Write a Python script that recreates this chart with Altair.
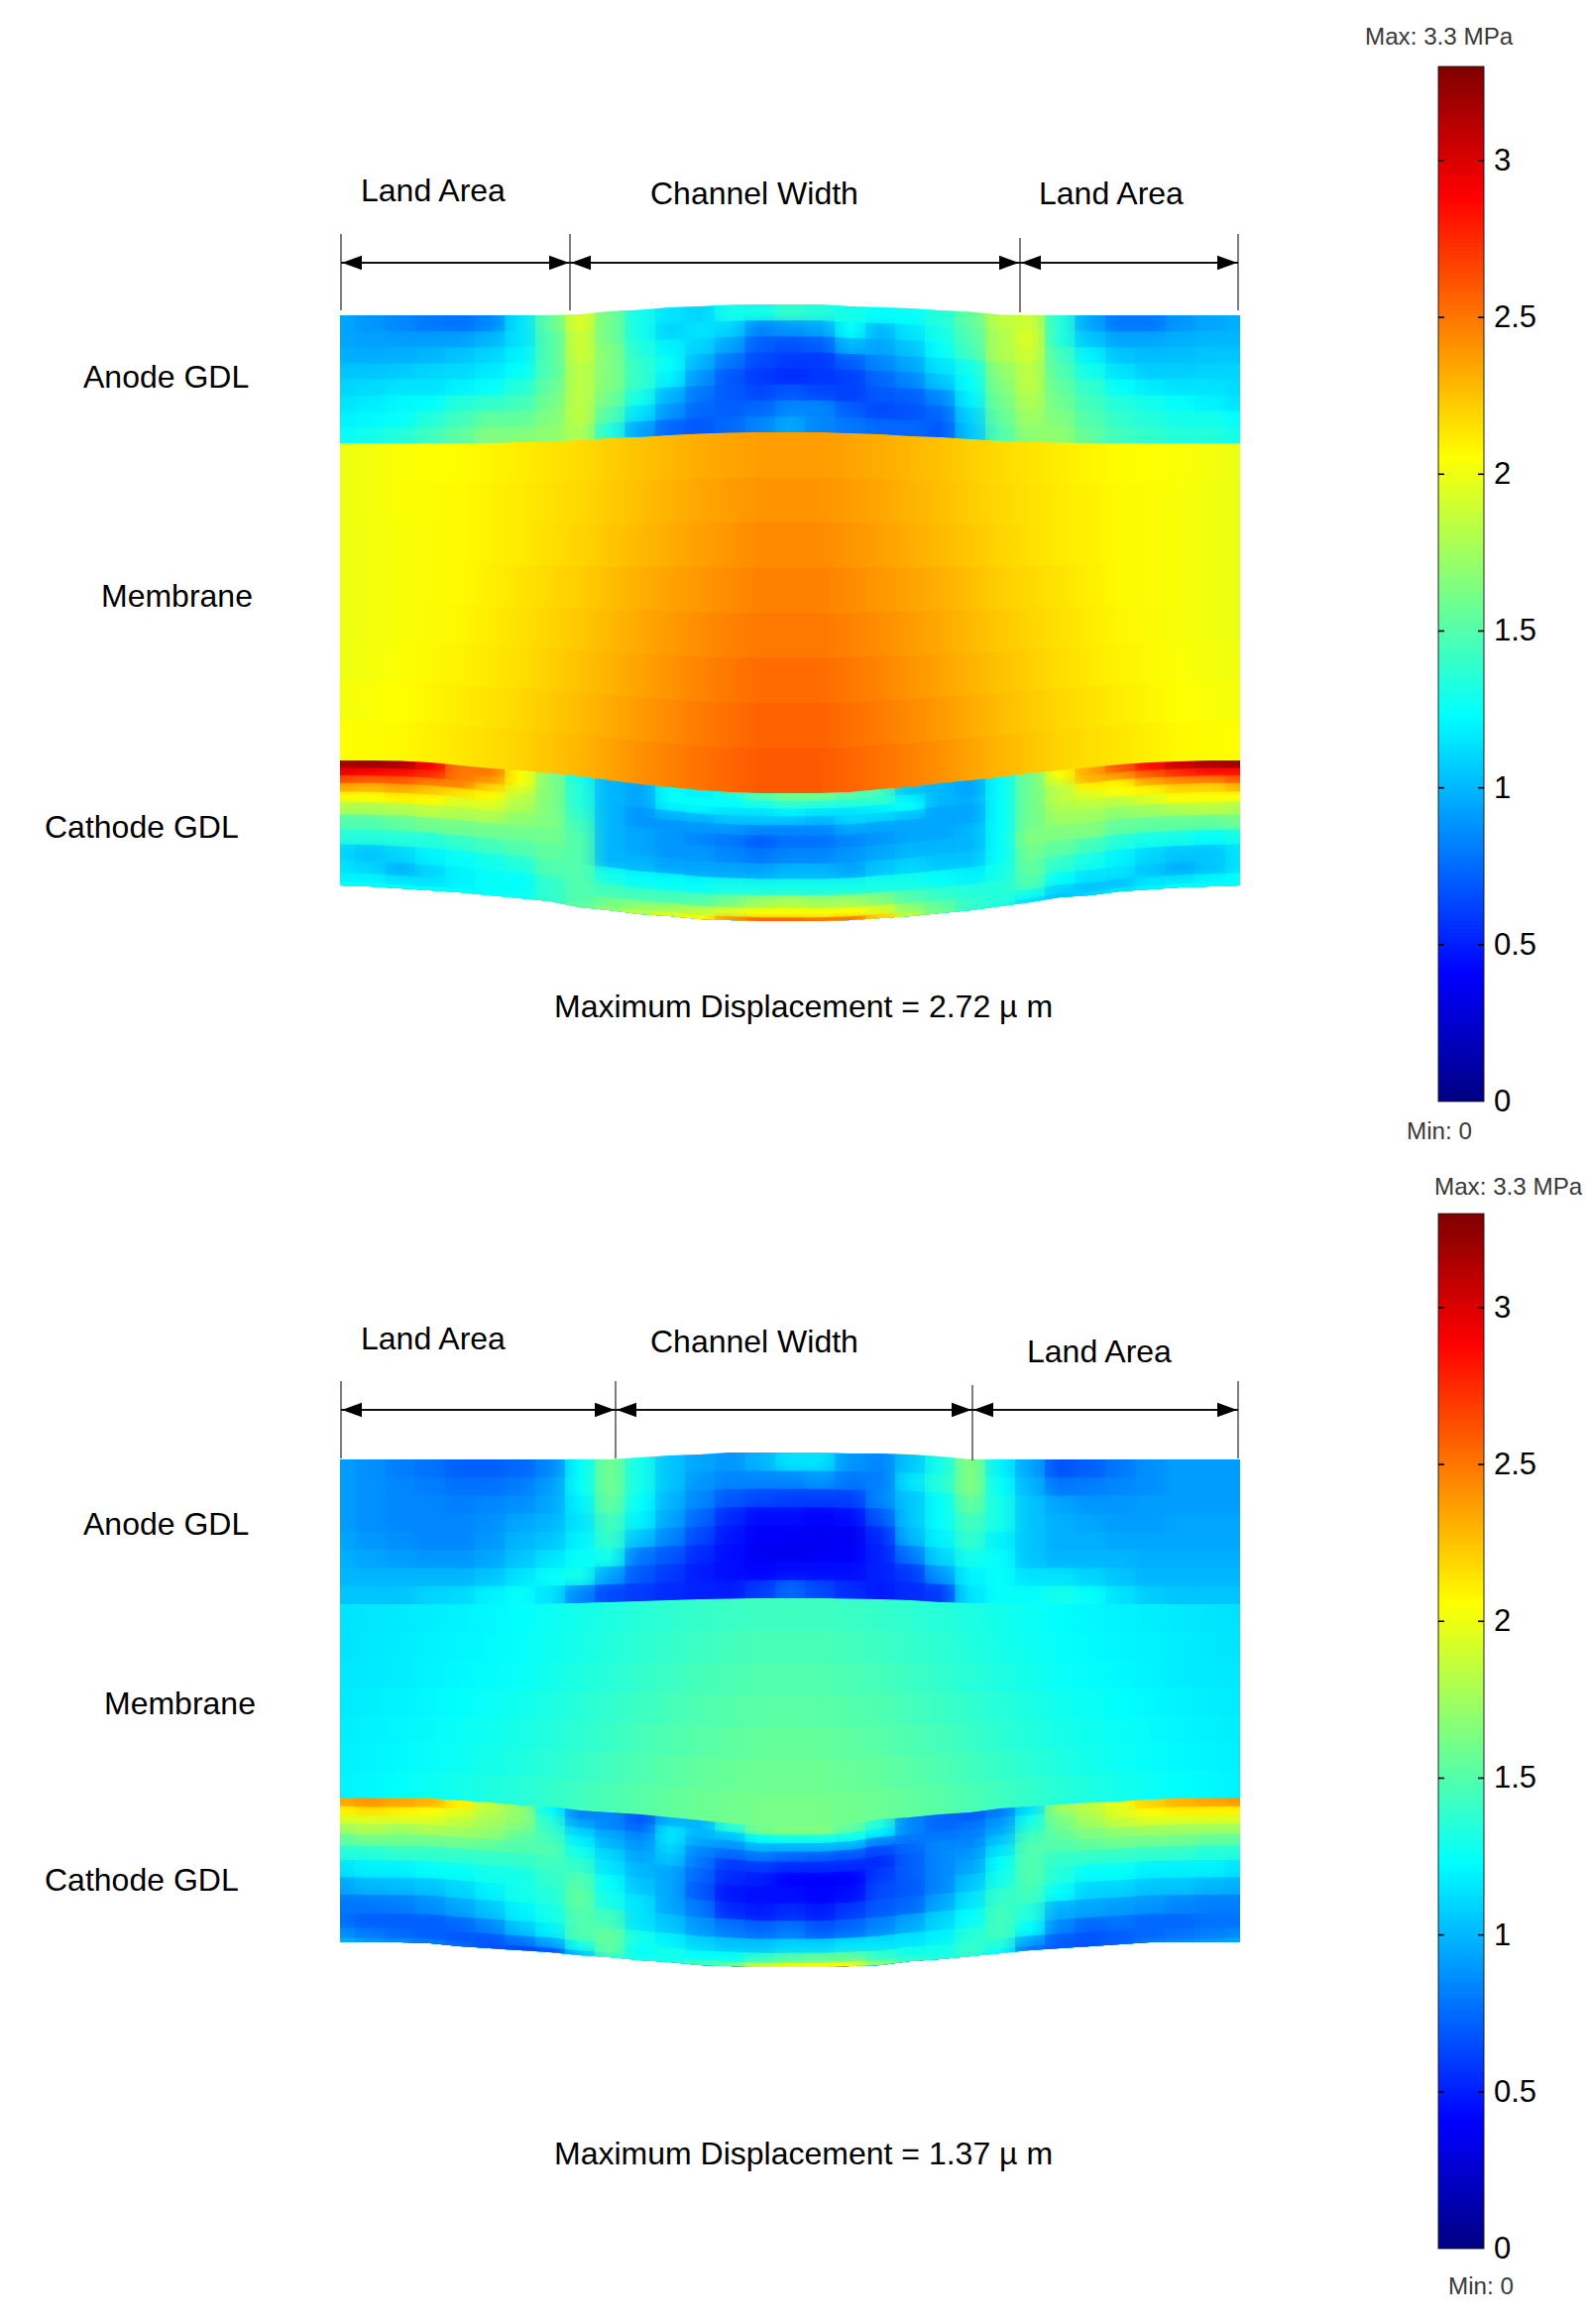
import altair as alt
import pandas as pd

# ---------- stations along the cell width (reference pixels) ----------
STATIONS = [343,373,404,434,464,494,525,555,585,615,646,676,706,736,767,797,
            827,858,888,918,948,979,1009,1039,1069,1100,1130,1160,1190,1221,1251]

# ---------- deformed layer boundaries, panel 1 ----------
P1_ANODE_TOP = [318,318,318,318,318,318,318,318,317,314,312.5,310,309,307.5,307,307,
                307,309,310,311,313,314.5,317.5,318,318,318,318,318,318,318,318]
P1_ANODE_BOT = [447,447,447,447,447,447,446,445.5,444,442,441,439,437.5,436.5,436,436,
                436,437,438,440,441,443,445,446,446.5,447,447,447,447,447,447]
P1_MEM_BOT = [767,767,767.5,769,772,775,777,780,783,787,791,794,797,799,800,800,
              800,799,796,794,790,787,784,780,777,774,771,769,768,767,767]
P1_CATH_BOT = [893,894,896,898,900,903,906,909,915,918,922,924,927,928,929,929,
               929,928,926,924,921,918,914,910,905,903,899,897,895,894,893]

# ---------- deformed layer boundaries, panel 2 ----------
P2_ANODE_TOP = [1472,1472,1472,1472,1472,1472,1472,1472,1472,1472,1470,1468,1467,1465,1465,1465,
                1465,1466,1466,1467,1469,1472,1472,1472,1472,1472,1472,1472,1472,1472,1472]
P2_ANODE_BOT = [1618,1618,1618,1618,1618,1618,1618,1617.5,1617,1616,1615,1614,1613,1612.5,1612,1612,
                1612,1612.5,1613,1614,1616,1617,1617.5,1618,1618,1618,1618,1618,1618,1618,1618]
P2_MEM_BOT = [1813,1814,1814,1814,1816,1818,1821,1822,1826,1828,1830,1833,1836,1839,1842,1842,
              1842,1840,1835,1833,1830,1828,1824,1822,1820,1818,1817,1815,1814,1813.5,1813]
P2_CATH_BOT = [1959,1959,1959,1960,1963,1965,1967,1969,1972,1974,1977,1979,1982,1983,1984,1984,
               1984,1983,1982,1978,1976,1973,1970,1967,1965,1963,1961,1959,1959,1959,1959]

# ---------- von Mises stress (MPa); rows top to bottom ----------
A1 = [
 [.95,.9,.85,.8,.78,.85,1.15,1.55,1.95,1.6,1.3,1.15,1.1,1.3,1.3,1.4,1.35,1.3,1.25,1.25,1.35,1.55,1.85,1.9,1.35,.95,.8,.8,.9,.95,.98],
 [.95,.93,.92,.92,.93,1.0,1.15,1.5,1.9,1.6,1.3,1.1,1.15,1.1,.85,.9,.95,1.25,1.0,1.15,1.3,1.5,1.8,1.95,1.35,1.05,.95,.95,.98,1.0,1.0],
 [.98,.97,.98,1.0,1.05,1.1,1.2,1.5,1.9,1.65,1.35,1.2,1.1,.95,.72,.68,.72,1.0,.95,1.05,1.25,1.45,1.8,1.9,1.45,1.2,1.05,1.02,1.03,1.05,1.05],
 [1.05,1.05,1.07,1.1,1.12,1.17,1.25,1.5,1.85,1.65,1.4,1.25,1.0,.8,.65,.6,.6,.72,.85,.95,1.15,1.3,1.7,1.85,1.5,1.3,1.15,1.08,1.08,1.1,1.1],
 [1.1,1.12,1.15,1.15,1.2,1.25,1.35,1.55,1.85,1.65,1.4,1.2,.9,.7,.6,.55,.58,.62,.75,.85,1.05,1.25,1.65,1.85,1.55,1.4,1.25,1.18,1.15,1.15,1.12],
 [1.15,1.18,1.22,1.24,1.35,1.4,1.45,1.6,1.85,1.6,1.3,1.0,.8,.7,.65,.7,.65,.62,.7,.72,.85,1.2,1.6,1.8,1.6,1.45,1.35,1.3,1.25,1.2,1.15],
 [1.2,1.22,1.25,1.35,1.45,1.55,1.55,1.65,1.85,1.5,1.15,.9,.75,.72,.75,.85,.85,.72,.65,.68,.75,1.1,1.55,1.75,1.65,1.5,1.4,1.35,1.3,1.3,1.25],
 [1.25,1.3,1.35,1.45,1.55,1.65,1.65,1.7,1.8,1.35,.95,.75,.7,.75,.85,.95,.85,.8,.75,.75,.7,1.05,1.5,1.7,1.7,1.55,1.45,1.4,1.35,1.35,1.3],
]
M1 = [
 [2.0,2.05,2.07,2.12,2.18,2.26,2.33,2.38,2.38,2.33,2.26,2.18,2.12,2.07,2.05,2.0],
 [2.0,2.05,2.08,2.13,2.19,2.27,2.35,2.41,2.41,2.35,2.27,2.19,2.13,2.08,2.04,2.0],
 [2.0,2.04,2.08,2.13,2.2,2.29,2.37,2.44,2.44,2.37,2.29,2.2,2.13,2.08,2.04,2.0],
 [2.0,2.04,2.08,2.15,2.22,2.32,2.4,2.47,2.47,2.4,2.32,2.22,2.15,2.08,2.04,2.0],
 [2.0,2.04,2.09,2.16,2.24,2.34,2.43,2.5,2.5,2.43,2.34,2.24,2.16,2.09,2.04,2.0],
 [2.01,2.05,2.1,2.17,2.26,2.36,2.46,2.54,2.54,2.46,2.36,2.26,2.17,2.1,2.05,2.01],
 [2.03,2.06,2.12,2.19,2.28,2.39,2.49,2.57,2.57,2.49,2.39,2.28,2.19,2.12,2.06,2.03],
 [2.06,2.08,2.14,2.2,2.3,2.42,2.52,2.6,2.6,2.52,2.42,2.3,2.2,2.14,2.08,2.06],
]
# these grids are listed by station, each with one value per row
C1_COLS = [
 [3.15,2.95,2.65,2.35,2.08,1.8,1.5,1.35,1.1,1.15,1.2,1.25],
 [3.2,2.9,2.6,2.3,2.05,1.8,1.5,1.35,1.05,1.1,1.2,1.25],
 [3.15,2.85,2.6,2.35,2.1,1.8,1.55,1.35,1.1,1.0,1.15,1.25],
 [2.9,2.75,2.5,2.25,2.08,1.85,1.6,1.35,1.2,1.1,1.15,1.25],
 [2.5,2.5,2.45,2.15,1.95,1.8,1.6,1.4,1.25,1.2,1.2,1.25],
 [2.5,2.4,2.2,2.08,1.95,1.8,1.6,1.45,1.3,1.25,1.25,1.25],
 [2.05,2.05,1.95,1.85,1.8,1.7,1.6,1.5,1.35,1.25,1.25,1.3],
 [1.65,1.65,1.65,1.65,1.65,1.65,1.6,1.55,1.5,1.4,1.4,1.4],
 [1.3,1.35,1.35,1.35,1.4,1.45,1.5,1.5,1.5,1.5,1.5,1.55],
 [1.0,1.0,1.0,1.0,1.0,1.0,1.0,1.0,1.3,1.45,1.6,1.7],
 [.95,.95,.95,.9,.9,.95,.95,1.0,1.25,1.45,1.7,1.85],
 [1.25,1.25,1.2,1.0,.9,.9,.9,.95,1.25,1.45,1.75,1.95],
 [1.2,1.25,1.2,1.0,.9,.85,.9,.95,1.25,1.5,1.85,2.05],
 [1.3,1.25,1.15,1.05,.9,.8,.85,.95,1.3,1.6,1.95,2.4],
 [1.5,1.3,1.15,1.05,.85,.72,.8,.95,1.3,1.75,2.05,2.55],
 [1.6,1.4,1.2,1.05,.85,.78,.85,1.0,1.3,1.8,2.05,2.55],
 [1.6,1.35,1.15,1.0,.85,.78,.85,1.0,1.3,1.75,2.05,2.5],
 [1.5,1.35,1.15,1.1,.95,.85,.9,.95,1.3,1.75,2.05,2.5],
 [1.45,1.4,1.2,1.1,.95,.9,.95,1.05,1.3,1.65,1.95,2.2],
 [1.05,1.2,1.25,1.05,.95,.95,1.0,1.1,1.3,1.5,1.7,1.85],
 [1.0,1.0,1.0,.95,.95,.95,1.0,1.05,1.25,1.4,1.55,1.6],
 [.95,.95,.98,.95,.95,1.0,1.0,1.05,1.2,1.35,1.4,1.4],
 [1.25,1.25,1.25,1.25,1.25,1.25,1.25,1.25,1.3,1.35,1.35,1.35],
 [1.6,1.6,1.6,1.6,1.6,1.6,1.65,1.6,1.55,1.5,1.3,1.15],
 [2.05,1.95,1.85,1.85,1.8,1.75,1.65,1.55,1.4,1.25,1.1,1.05],
 [2.35,2.3,2.1,1.95,1.85,1.75,1.65,1.45,1.3,1.15,1.05,1.1],
 [2.6,2.4,2.1,2.05,1.85,1.7,1.55,1.35,1.2,1.15,1.05,1.15],
 [2.85,2.6,2.35,2.1,1.95,1.75,1.55,1.3,1.1,1.05,1.15,1.2],
 [3.05,2.75,2.45,2.2,2.05,1.8,1.55,1.3,1.05,.98,1.15,1.25],
 [3.15,2.85,2.5,2.2,2.05,1.85,1.55,1.25,1.05,1.05,1.2,1.25],
 [3.2,2.85,2.6,2.3,2.05,1.8,1.6,1.3,1.15,1.15,1.25,1.25],
]
A2_COLS = [
 [.92,.92,.92,.92,.95,.98,1.0,1.05],
 [.88,.88,.88,.88,.9,.95,1.0,1.05],
 [.82,.85,.85,.85,.88,.92,1.0,1.05],
 [.78,.82,.85,.85,.85,.9,1.0,1.1],
 [.72,.78,.82,.85,.85,.9,1.0,1.12],
 [.72,.78,.85,.88,.9,.95,1.05,1.2],
 [.75,.82,.88,.95,1.0,1.05,1.15,1.25],
 [.85,.92,.95,1.0,1.05,1.15,1.25,1.15],
 [1.25,1.25,1.2,1.15,1.2,1.25,1.3,.85],
 [1.6,1.6,1.55,1.45,1.4,1.3,.95,.65],
 [1.3,1.3,1.25,1.2,1.05,.8,.7,.6],
 [1.05,1.05,1.0,.95,.85,.7,.6,.55],
 [.95,.9,.85,.75,.65,.55,.5,.52],
 [.9,.85,.7,.55,.48,.45,.45,.5],
 [1.0,.85,.65,.45,.4,.38,.42,.6],
 [1.15,.85,.62,.45,.4,.36,.45,.75],
 [1.15,.9,.62,.42,.38,.38,.45,.65],
 [.9,.8,.62,.45,.38,.4,.45,.55],
 [.85,.82,.85,.7,.55,.52,.52,.5],
 [1.05,1.15,1.05,1.05,1.0,.8,.6,.55],
 [1.3,1.35,1.25,1.25,1.2,1.1,.9,.6],
 [1.65,1.65,1.55,1.45,1.4,1.3,1.2,1.15],
 [1.2,1.25,1.3,1.3,1.2,1.25,1.25,1.25],
 [.95,1.0,1.05,1.05,1.05,1.05,1.15,1.25],
 [.68,.8,.95,.98,.98,1.0,1.15,1.3],
 [.72,.82,.9,.95,.98,1.0,1.1,1.25],
 [.8,.85,.9,.92,.95,1.0,1.05,1.15],
 [.88,.88,.92,.92,.95,.98,1.0,1.08],
 [.92,.92,.92,.95,.95,.98,1.0,1.05],
 [.92,.92,.92,.95,.95,.98,1.0,1.05],
 [.92,.92,.92,.95,.95,.98,1.0,1.05],
]
M2 = [
 [1.15,1.17,1.2,1.24,1.3,1.36,1.41,1.44,1.44,1.41,1.36,1.3,1.24,1.2,1.17,1.14],
 [1.15,1.18,1.21,1.25,1.31,1.38,1.43,1.47,1.47,1.43,1.38,1.31,1.25,1.21,1.18,1.15],
 [1.16,1.18,1.22,1.26,1.33,1.4,1.46,1.5,1.5,1.46,1.4,1.33,1.26,1.22,1.18,1.16],
 [1.17,1.2,1.24,1.29,1.36,1.43,1.49,1.53,1.53,1.49,1.43,1.36,1.29,1.24,1.2,1.17],
 [1.18,1.21,1.26,1.31,1.38,1.46,1.52,1.56,1.56,1.52,1.46,1.38,1.31,1.26,1.21,1.18],
 [1.19,1.22,1.27,1.33,1.41,1.49,1.55,1.59,1.59,1.55,1.49,1.41,1.33,1.27,1.22,1.19],
 [1.2,1.24,1.3,1.36,1.44,1.52,1.58,1.62,1.62,1.58,1.52,1.44,1.36,1.3,1.24,1.2],
]
C2_COLS = [
 [2.35,2.1,1.95,1.75,1.55,1.35,1.15,.95,.8,.78,.88,.98],
 [2.4,2.15,1.95,1.8,1.6,1.35,1.2,1.0,.8,.72,.8,.9],
 [2.35,2.1,1.95,1.75,1.6,1.4,1.2,1.02,.82,.72,.75,.85],
 [2.3,2.05,1.95,1.8,1.6,1.4,1.25,1.05,.88,.72,.72,.8],
 [2.1,1.95,1.85,1.75,1.6,1.4,1.25,1.1,.95,.75,.7,.75],
 [1.85,1.8,1.75,1.7,1.55,1.4,1.3,1.2,1.05,.85,.7,.68],
 [1.7,1.7,1.65,1.55,1.5,1.4,1.3,1.3,1.2,1.05,.8,.65],
 [1.25,1.35,1.4,1.45,1.5,1.45,1.4,1.35,1.3,1.2,.95,.7],
 [.85,.95,1.1,1.2,1.3,1.4,1.5,1.55,1.5,1.5,1.3,1.05],
 [.85,.85,.95,1.0,1.1,1.15,1.25,1.3,1.45,1.55,1.55,1.45],
 [.7,.75,.85,.9,.95,1.0,1.05,1.15,1.15,1.3,1.25,1.3],
 [1.0,1.15,1.15,1.1,1.05,.95,.95,.95,1.05,1.2,1.3,1.3],
 [1.0,1.0,.95,.85,.8,.75,.7,.8,.9,1.1,1.25,1.45],
 [1.35,1.05,.9,.75,.6,.55,.48,.55,.8,1.05,1.25,1.55],
 [1.6,1.25,1.0,.8,.6,.5,.45,.5,.75,1.05,1.4,1.9],
 [1.65,1.3,1.0,.75,.55,.42,.45,.55,.8,1.1,1.5,2.0],
 [1.65,1.3,1.0,.72,.55,.4,.42,.5,.7,1.1,1.55,2.05],
 [1.55,1.3,1.0,.7,.55,.42,.45,.6,.75,1.15,1.55,2.0],
 [1.35,1.2,.85,.65,.55,.6,.65,.7,.85,1.15,1.4,1.65],
 [.85,.85,.8,.75,.72,.72,.7,.75,.95,1.15,1.3,1.4],
 [.75,.75,.8,.85,.85,.85,.85,.95,1.1,1.2,1.3,1.35],
 [.72,.78,.82,.85,.9,.95,1.05,1.15,1.25,1.35,1.4,1.4],
 [.82,.9,.95,1.05,1.15,1.25,1.3,1.4,1.45,1.45,1.35,1.25],
 [1.15,1.3,1.35,1.45,1.5,1.5,1.5,1.45,1.35,1.25,.95,.8],
 [1.75,1.65,1.6,1.55,1.5,1.4,1.35,1.25,.98,.85,.72,.7],
 [1.85,1.8,1.75,1.65,1.55,1.4,1.25,1.1,.95,.75,.68,.68],
 [2.0,1.95,1.85,1.7,1.6,1.4,1.25,1.1,.92,.78,.72,.72],
 [2.2,2.05,1.95,1.75,1.6,1.4,1.2,1.05,.9,.75,.75,.8],
 [2.3,2.1,1.95,1.75,1.6,1.4,1.2,1.05,.85,.75,.78,.85],
 [2.35,2.1,1.95,1.75,1.55,1.35,1.2,1.0,.82,.78,.82,.9],
 [2.4,2.1,1.95,1.75,1.55,1.35,1.15,.98,.82,.78,.85,.95],
]
CATH_ROW_TOPS = [0,.06,.12,.18,.25,.33,.43,.55,.67,.8,.9,.97]

# ---------- colour map ----------
STRESS_MAX = 3.3
JET_POS = [0, .125, .375, .625, .875, 1]
JET_HEX = ["#000080", "#0000ff", "#00ffff", "#ffff00", "#ff0000", "#800000"]
JET_STRESS = [p * STRESS_MAX for p in JET_POS]

def jet(v):
    t = max(0, min(1, v / STRESS_MAX))
    for i in range(5):
        if t <= JET_POS[i + 1]:
            a = [int(JET_HEX[i][k:k+2], 16) for k in (1, 3, 5)]
            b = [int(JET_HEX[i+1][k:k+2], 16) for k in (1, 3, 5)]
            u = (t - JET_POS[i]) / (JET_POS[i+1] - JET_POS[i])
            return "#%02x%02x%02x" % tuple(round(p + (q - p) * u) for p, q in zip(a, b))
    return JET_HEX[-1]

# ---------- shared pixel scales ----------
FONT = "Liberation Sans"
PX = alt.Scale(domain=[8, 1596], nice=False, zero=False)
PY = alt.Scale(domain=[2336, 8], nice=False, zero=False)
X = lambda f: alt.X(f, type="quantitative", scale=PX, axis=None)
Y = lambda f: alt.Y(f, type="quantitative", scale=PY, axis=None)

layers = []

def add_layer(top, bottom, rows, row_tops, strips=True):
    # horizontal bands: smooth across the width
    for r, (vals, f) in enumerate(zip(rows, row_tops)):
        st = STATIONS if len(vals) == 31 else STATIONS[::2]
        assert len(vals) == len(st), (r, len(vals))
        stops = [{"offset": (x - 343) / 908, "color": jet(v)} for x, v in zip(st, vals)]
        df = pd.DataFrame({
            "x": STATIONS,
            "top": [t + f * (b - t) for t, b in zip(top, bottom)],
            "bot": bottom,
        })
        layers.append(
            alt.Chart(df).mark_area(
                orient="vertical",
                fill={"gradient": "linear", "x1": 0, "y1": 0, "x2": 1, "y2": 0, "stops": stops},
            ).encode(x=X("x"), y=Y("top"), y2="bot")
        )
    if not strips:
        return
    # translucent vertical strips over them: smooth across the depth
    edges = row_tops[1:] + [1.0]
    centres = [(a + b) / 2 for a, b in zip(row_tops, edges)]
    n = len(STATIONS)
    for i in range(n):
        idx_l, idx_r = max(i - 1, 0), min(i + 1, n - 1)
        xs = [(STATIONS[idx_l] + STATIONS[i]) // 2, STATIONS[i], (STATIONS[idx_r] + STATIONS[i] + 1) // 2]
        ts = [(top[idx_l] + top[i]) / 2, top[i], (top[idx_r] + top[i]) / 2]
        bs = [(bottom[idx_l] + bottom[i]) / 2, bottom[i], (bottom[idx_r] + bottom[i]) / 2]
        y0, y1 = min(ts), max(bs)
        stops = [{"offset": (top[i] + fc * (bottom[i] - top[i]) - y0) / (y1 - y0), "color": jet(rows[k][i])}
                 for k, fc in enumerate(centres)]
        df = pd.DataFrame({"x": xs, "top": ts, "bot": bs})
        layers.append(
            alt.Chart(df).mark_area(
                orient="vertical", opacity=0.38,
                fill={"gradient": "linear", "x1": 0, "y1": 0, "x2": 0, "y2": 1, "stops": stops},
            ).encode(x=X("x"), y=Y("top"), y2="bot")
        )

def tops(n):
    return [k / n for k in range(n)]

add_layer(P1_ANODE_TOP, P1_ANODE_BOT, A1, tops(len(A1)))
add_layer(P1_ANODE_BOT, P1_MEM_BOT, M1, tops(len(M1)), strips=False)
add_layer(P1_MEM_BOT, P1_CATH_BOT, [list(r) for r in zip(*C1_COLS)], CATH_ROW_TOPS)
add_layer(P2_ANODE_TOP, P2_ANODE_BOT, [list(r) for r in zip(*A2_COLS)], tops(8))
add_layer(P2_ANODE_BOT, P2_MEM_BOT, M2, tops(len(M2)), strips=False)
add_layer(P2_MEM_BOT, P2_CATH_BOT, [list(r) for r in zip(*C2_COLS)], CATH_ROW_TOPS)

# ---------- dimension lines ----------
DIM_X1 = [344, 575, 1029, 1249]
DIM_X2 = [344, 621, 981, 1249]
DIM_TOP1 = [236, 236, 240, 236]
DIM_BOT1 = [313, 313, 315, 313]
DIM_TOP2 = [1393, 1393, 1397, 1393]
DIM_BOT2 = [1471, 1471, 1473, 1471]
ARROW_Y = [265, 1422]
LEFT_HEAD = "M-1,0L1,-0.72L1,0.72Z"
RIGHT_HEAD = "M1,0L-1,-0.72L-1,0.72Z"

for xs, t, b, ay in ((DIM_X1, DIM_TOP1, DIM_BOT1, ARROW_Y[0]), (DIM_X2, DIM_TOP2, DIM_BOT2, ARROW_Y[1])):
    layers.append(alt.Chart(pd.DataFrame({"x": xs, "t": t, "b": b})).mark_rule(
        color="#111111", strokeWidth=1.1).encode(x=X("x"), y=Y("t"), y2="b"))
    seg = pd.DataFrame({"a": xs[:-1], "b": xs[1:], "y": [ay] * 3})
    layers.append(alt.Chart(seg).mark_rule(color="#111111", strokeWidth=1.8).encode(
        x=X("a"), x2="b", y=Y("y")))
    heads_l = pd.DataFrame({"x": [v + 11 for v in xs[:-1]], "y": [ay] * 3})
    heads_r = pd.DataFrame({"x": [v - 11 for v in xs[1:]], "y": [ay] * 3})
    layers.append(alt.Chart(heads_l).mark_point(shape=LEFT_HEAD, filled=True, size=400, color="black", opacity=1, strokeWidth=0)
                  .encode(x=X("x"), y=Y("y")))
    layers.append(alt.Chart(heads_r).mark_point(shape=RIGHT_HEAD, filled=True, size=400, color="black", opacity=1, strokeWidth=0)
                  .encode(x=X("x"), y=Y("y")))

# ---------- labels ----------
LABEL_TEXT = ["Land Area", "Channel Width", "Land Area", "Anode GDL", "Membrane", "Cathode GDL",
              "Maximum Displacement = 2.72 \u00b5 m",
              "Land Area", "Channel Width", "Land Area", "Anode GDL", "Membrane", "Cathode GDL",
              "Maximum Displacement = 1.37 \u00b5 m"]
LABEL_X = [364, 656, 1048, 84, 102, 45, 559, 364, 656, 1036, 84, 105, 45, 559]
LABEL_Y = [192, 195, 195, 380, 601, 834, 1015, 1350, 1353, 1363, 1537, 1718, 1896, 2172]
layers.append(alt.Chart(pd.DataFrame({"x": LABEL_X, "y": LABEL_Y, "t": LABEL_TEXT})).mark_text(
    font=FONT, fontSize=32, align="left", baseline="middle", color="black", dy=1
).encode(x=X("x"), y=Y("y"), text="t:N"))

BAR_TEXT = ["Max: 3.3 MPa", "Min: 0", "Max: 3.3 MPa", "Min: 0"]
BAR_TEXT_X = [1377, 1419, 1447, 1461]
BAR_TEXT_Y = [38, 1142, 1198, 2307]
layers.append(alt.Chart(pd.DataFrame({"x": BAR_TEXT_X, "y": BAR_TEXT_Y, "t": BAR_TEXT})).mark_text(
    font=FONT, fontSize=24.2, align="left", baseline="middle", color="#3a3a3a"
).encode(x=X("x"), y=Y("y"), text="t:N"))

# ---------- colour bars ----------
BAR_X0, BAR_X1 = 1451, 1497
TICK_VALUES = [0, 0.5, 1, 1.5, 2, 2.5, 3]
TICK_LABELS = ["0", "0.5", "1", "1.5", "2", "2.5", "3"]
SLICES = [k * 0.0125 for k in range(264, 0, -1)]
BAR_RANGES = [[1103, 59], [2260, 1216]]

for rng in BAR_RANGES:
    ys = alt.Scale(domain=[0, STRESS_MAX], range=rng, nice=False, zero=False)
    VY = lambda f: alt.Y(f, type="quantitative", scale=ys, axis=None)
    ramp = pd.DataFrame({"hi": SLICES, "lo": [0] * len(SLICES), "x0": [BAR_X0] * len(SLICES), "x1": [BAR_X1] * len(SLICES)})
    layers.append(alt.Chart(ramp).mark_rect().encode(
        x=X("x0"), x2="x1", y=VY("hi"), y2="lo",
        color=alt.Color("hi:Q", legend=None,
                        scale=alt.Scale(domain=JET_STRESS, range=JET_HEX, interpolate="rgb"))))
    frame = pd.DataFrame({"x0": [BAR_X0], "x1": [BAR_X1], "hi": [STRESS_MAX], "lo": [0]})
    layers.append(alt.Chart(frame).mark_rect(fillOpacity=0, stroke="#1a1a1a", strokeWidth=1.2, strokeOpacity=0.8).encode(
        x=X("x0"), x2="x1", y=VY("hi"), y2="lo"))
    ticks = pd.DataFrame({"v": TICK_VALUES[1:], "a0": [BAR_X0] * 6, "a1": [BAR_X0 + 6] * 6,
                          "b0": [BAR_X1 - 6] * 6, "b1": [BAR_X1] * 6})
    layers.append(alt.Chart(ticks).mark_rule(color="black", strokeWidth=1.6).encode(x=X("a0"), x2="a1", y=VY("v")))
    layers.append(alt.Chart(ticks).mark_rule(color="black", strokeWidth=1.6).encode(x=X("b0"), x2="b1", y=VY("v")))
    labels = pd.DataFrame({"v": TICK_VALUES, "t": TICK_LABELS, "x": [1507] * 7})
    layers.append(alt.Chart(labels).mark_text(font=FONT, fontSize=31, align="left", baseline="middle", color="black", dy=1).encode(
        x=X("x"), y=VY("v"), text="t:N"))

chart = alt.layer(*layers).resolve_scale(y="independent", color="independent").properties(
    width=1588, height=2328, padding=0, autosize=alt.AutoSizeParams(type="none"),
    background="white",
).configure_view(stroke=None)

chart.save("out.html", embed_options={"renderer": "svg", "actions": False})
